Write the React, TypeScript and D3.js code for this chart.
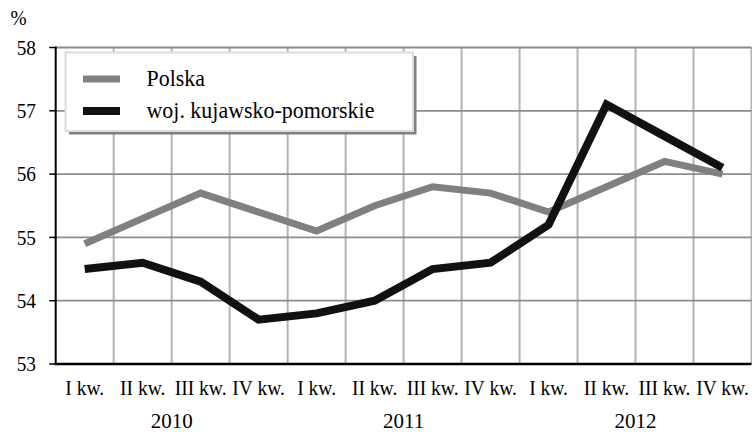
import React from "react";
import * as d3 from "d3";

const quarters = ["I kw.", "II kw.", "III kw.", "IV kw.", "I kw.", "II kw.", "III kw.", "IV kw.", "I kw.", "II kw.", "III kw.", "IV kw."];
const years = ["2010", "2011", "2012"];
const polska = [54.9, 55.3, 55.7, 55.4, 55.1, 55.5, 55.8, 55.7, 55.4, 55.8, 56.2, 56.0];
const kujawsko = [54.5, 54.6, 54.3, 53.7, 53.8, 54.0, 54.5, 54.6, 55.2, 57.1, 56.6, 56.1];
const yTicks = [53, 54, 55, 56, 57, 58];
const seriesNames = ["Polska", "woj. kujawsko-pomorskie"];

const W = 752;
const H = 432;
const FONT = "Liberation Serif, Times New Roman, Times, DejaVu Serif, serif";

export default function App() {
  const left = 55.7;
  const right = 751.5;
  const top = 47.5;
  const bottom = 364;
  const idx = quarters.map((_, i) => i);
  const x = d3.scaleBand<number>().domain(idx).range([left, right]).padding(0);
  const y = d3.scaleLinear().domain([53, 58]).range([bottom, top]);
  const cx = (i: number) => (x(i) as number) + x.bandwidth() / 2;
  const line = d3
    .line<number>()
    .x((_, i) => cx(i))
    .y((d) => y(d));

  const T = (props: { x: number; y: number; anchor?: string; size?: number; sx?: number; children: React.ReactNode }) => (
    <text
      transform={`translate(${props.x},${props.y}) scale(${props.sx ?? 1},1)`}
      textAnchor={props.anchor || "start"}
      style={{ fontFamily: FONT, fontSize: (props.size || 21) + "px" }}
      fill="#000"
    >
      {props.children}
    </text>
  );

  const legX = 65.5;
  const legY = 52.5;
  const legW = 347.5;
  const legH = 78.5;

  return (
    <svg width={W} height={H} style={{ position: "absolute", left: 0, top: 0, background: "#fff" }}>
      <rect x={0} y={0} width={W} height={H} fill="#fff" />
      {idx.map((i) => (
        <line key={"v" + i} x1={(x(i) as number) + x.bandwidth()} x2={(x(i) as number) + x.bandwidth()} y1={top} y2={bottom} stroke="#b3b3b3" strokeWidth={2} />
      ))}
      {yTicks.filter((t) => t > 53).map((t) => (
        <line key={"h" + t} x1={left} x2={right} y1={y(t)} y2={y(t)} stroke="#8c8c8c" strokeWidth={t === 58 ? 2.2 : 1.8} />
      ))}
      {yTicks.map((t) => (
        <line key={"t" + t} x1={left - 6.5} x2={left} y1={y(t)} y2={y(t)} stroke="#000" strokeWidth={1.5} />
      ))}
      {yTicks.map((t) => (
        <T key={"l" + t} x={36} y={y(t) + 7.3} anchor="end" sx={0.92}>
          {t}
        </T>
      ))}
      <T x={10.5} y={25} sx={0.92}>%</T>
      <line x1={left} x2={left} y1={top - 1} y2={bottom} stroke="#000" strokeWidth={2} />
      <line x1={left - 1} x2={right} y1={bottom} y2={bottom} stroke="#000" strokeWidth={2.5} />
      {quarters.map((q, i) => (
        <T key={"q" + i} x={cx(i)} y={395} anchor="middle" sx={0.93}>
          {q}
        </T>
      ))}
      {years.map((yr, k) => (
        <T key={"y" + k} x={(x(k * 4) as number) + 2 * x.bandwidth()} y={427.5} anchor="middle">
          {yr}
        </T>
      ))}
      <path d={line(polska) || ""} fill="none" stroke="#808080" strokeWidth={7} strokeLinejoin="miter" />
      <path d={line(kujawsko) || ""} fill="none" stroke="#111" strokeWidth={8} strokeLinejoin="miter" />
      <rect x={legX + 3.5} y={legY + 3.5} width={legW} height={legH} fill="#808080" />
      <rect x={legX} y={legY} width={legW} height={legH} fill="#fff" stroke="#dcdcdc" strokeWidth={2} />
      <line x1={83} x2={120} y1={79} y2={79} stroke="#808080" strokeWidth={7} />
      <line x1={83} x2={120} y1={111} y2={111} stroke="#111" strokeWidth={8} />
      <T x={146.5} y={85.5} size={22.5} sx={0.975}>{seriesNames[0]}</T>
      <T x={146.5} y={118} size={22.5} sx={0.975}>{seriesNames[1]}</T>
    </svg>
  );
}
